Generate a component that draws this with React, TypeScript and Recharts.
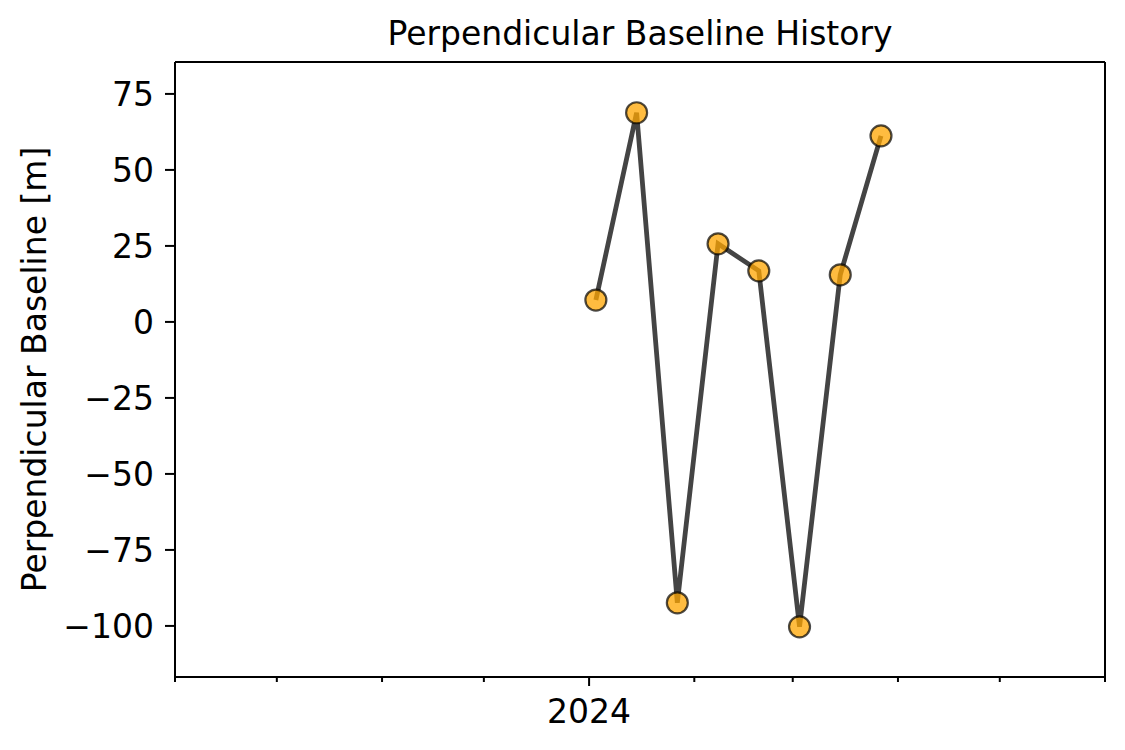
import { LineChart, Line, XAxis, YAxis, Label, ReferenceLine } from 'recharts'

// acquisition dates and perpendicular baselines (m)
const dates = ['2024-01-03', '2024-01-15', '2024-01-27', '2024-02-08', '2024-02-20', '2024-03-03', '2024-03-15', '2024-03-27']
const baselines = [7.2, 68.8, -92.4, 25.7, 16.8, -100.3, 15.5, 61.2]

// monthly ticks, Sep 2023 .. Jun 2024; only January is labelled
const tickDates = ['2023-09-01', '2023-10-01', '2023-11-01', '2023-12-01', '2024-01-01', '2024-02-01', '2024-03-01', '2024-04-01', '2024-05-01', '2024-06-01']
const majorLabels: Record<string, string> = { '2024-01-01': '2024' }
const yTicks = [-100, -75, -50, -25, 0, 25, 50, 75]
const yDomain = [-116.8, 85.5]

const ORIGIN = Date.UTC(2024, 0, 1)
const toDay = (s: string) => {
  const [y, m, d] = s.split('-').map(Number)
  return Math.round((Date.UTC(y, m - 1, d) - ORIGIN) / 86400000)
}

const data = dates.map((d, i) => ({ day: toDay(d), bperp: baselines[i] }))
const xTicks = tickDates.map(toDay)
const xDomain = [xTicks[0], xTicks[xTicks.length - 1]]
const labelByDay: Record<number, string> = {}
Object.keys(majorLabels).forEach((k) => (labelByDay[toDay(k)] = majorLabels[k]))

const FONT = '"DejaVu Sans", sans-serif'
const FS = 33
const AX = 2
const fmt = (v: number) => (v < 0 ? '\u2212' + Math.abs(v) : String(v))

function XTick(props: any) {
  const { x, y, payload } = props
  const label = labelByDay[payload.value]
  const len = label ? 9 : 5
  return (
    <g>
      <line x1={x} x2={x} y1={y - 8} y2={y - 8 + len} stroke="#000" strokeWidth={AX} />
      {label && (
        <text x={x} y={y + 38} textAnchor="middle" fontSize={FS} fontFamily={FONT} fill="#000">
          {label}
        </text>
      )}
    </g>
  )
}

function Marker(props: any) {
  const { cx, cy } = props
  if (cx == null || cy == null) return null
  return (
    <circle
      cx={cx}
      cy={cy}
      r={10.5}
      fill="#FFA500"
      fillOpacity={0.75}
      stroke="#000"
      strokeOpacity={0.7}
      strokeWidth={2.2}
    />
  )
}

export default function App() {
  return (
    <div style={{ position: 'absolute', left: 0, top: 0, width: 1125, height: 750, background: '#fff' }}>
      <div
        style={{
          position: 'absolute',
          left: 175,
          width: 930,
          top: 13,
          textAlign: 'center',
          fontFamily: FONT,
          fontSize: FS,
          color: '#000',
          lineHeight: '42px',
        }}
      >
        Perpendicular Baseline History
      </div>
      <LineChart width={1125} height={750} data={data} margin={{ top: 62, right: 20, bottom: 0, left: 0 }}>
        <XAxis
          dataKey="day"
          type="number"
          domain={xDomain}
          ticks={xTicks}
          interval={0}
          height={73}
          axisLine={{ stroke: '#000', strokeWidth: AX }}
          tickLine={false}
          tick={<XTick />}
          allowDataOverflow
        />
        <YAxis
          type="number"
          domain={yDomain}
          ticks={yTicks}
          interval={0}
          width={175}
          allowDataOverflow
          axisLine={{ stroke: '#000', strokeWidth: AX }}
          tickLine={{ stroke: '#000', strokeWidth: AX }}
          tickSize={10}
          tickMargin={11}
          tickFormatter={fmt}
          tick={{ fontSize: FS, fontFamily: FONT, fill: '#000' }}
        >
          <Label
            value="Perpendicular Baseline [m]"
            angle={-90}
            position="insideLeft"
            offset={0}
            dx={34}
            style={{ fontSize: FS, fontFamily: FONT, fill: '#000', textAnchor: 'middle' }}
          />
        </YAxis>
        <ReferenceLine y={yDomain[1]} stroke="#000" strokeWidth={AX} ifOverflow="visible" />
        <ReferenceLine x={xDomain[1]} stroke="#000" strokeWidth={AX} ifOverflow="visible" />
        <Line
          dataKey="bperp"
          type="linear"
          stroke="#444444"
          strokeWidth={4.8}
          dot={<Marker />}
          activeDot={false}
          isAnimationActive={false}
        />
      </LineChart>
    </div>
  )
}
